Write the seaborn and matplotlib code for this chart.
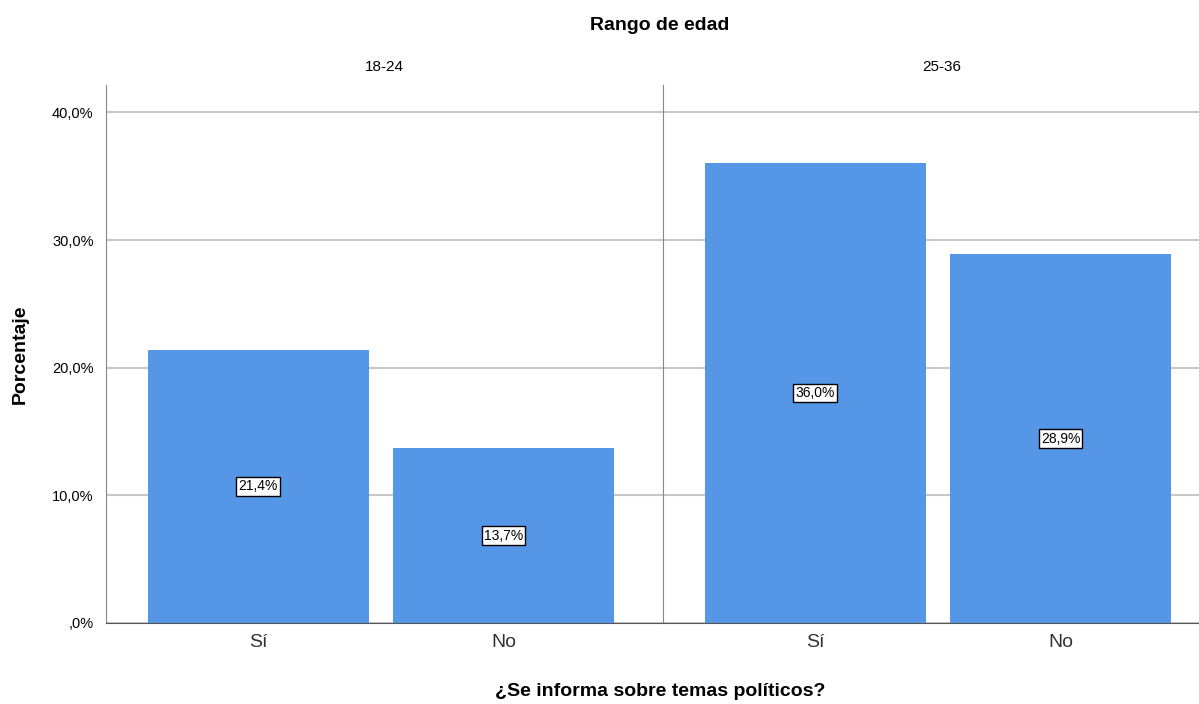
import pandas as pd
import seaborn as sns
import matplotlib.pyplot as plt

edades = ["18-24", "25-36"]
respuestas = ["Sí", "No"]
pct_18_24 = [21.4, 13.7]
pct_25_36 = [36.0, 28.9]

sns.set_style("white")
plt.rcParams['font.family'] = ['Liberation Sans', 'DejaVu Sans']
plt.rcParams['text.color'] = 'black'
plt.rcParams['xtick.color'] = 'black'
plt.rcParams['ytick.color'] = 'black'

df = pd.DataFrame({
    "edad": [edades[0]] * 2 + [edades[1]] * 2,
    "resp": respuestas * 2,
    "pct": pct_18_24 + pct_25_36,
})

fig = plt.figure(figsize=(11.99, 7.04), dpi=100)
W, H = 1199, 704
axes = [fig.add_axes([106 / W, 81 / H, 557 / W, 538 / H]),
        fig.add_axes([663 / W, 81 / H, 557 / W, 538 / H])]

def fmt(v):
    return ("%.1f%%" % v).replace(".", ",")

for i, (ax, edad) in enumerate(zip(axes, edades)):
    sub = df[df.edad == edad]
    sns.barplot(data=sub, x="resp", y="pct", order=respuestas, color="#5596E6",
                saturation=1, width=0.9, ax=ax, edgecolor="none")
    ax.set_xlim(-0.62, 1.65)
    ax.set_ylim(0, 42.15)
    ax.set_yticks([0, 10, 20, 30, 40])
    ax.yaxis.grid(True, color="#c8c8c8", linewidth=1.5)
    ax.set_axisbelow(True)
    ax.tick_params(length=0)
    ax.tick_params(axis="x", labelsize=14, colors="#333333", pad=8)
    for s in ["top", "right"]:
        ax.spines[s].set_visible(False)
    ax.spines["left"].set_color("#888888")
    ax.spines["bottom"].set_color("#555555")
    ax.set_xlabel("")
    ax.set_ylabel("")
    ax.set_title(edad, fontsize=11, pad=10, color="black")
    for j, v in enumerate(sub.pct):
        ax.text(j, v / 2, fmt(v), ha="center", va="center", fontsize=10,
                color="black",
                bbox=dict(boxstyle="square,pad=0.15", fc="white", ec="black", lw=1))
    if i == 0:
        ax.set_yticklabels([",0%" if t == 0 else fmt(t)
                            for t in [0, 10, 20, 30, 40]], fontsize=10.5)
        ax.tick_params(axis="y", pad=9)
    else:
        ax.set_yticklabels([])

fig.text(20 / W, 1 - 354 / H, "Porcentaje", rotation=90, ha="center", va="center",
         fontsize=14, fontweight="bold")
fig.text(660 / W, 1 - 691 / H, "¿Se informa sobre temas políticos?", ha="center",
         va="center", fontsize=14, fontweight="bold")
fig.text(660 / W, 1 - 25 / H, "Rango de edad", ha="center", va="center",
         fontsize=14, fontweight="bold")

fig.savefig("out.png", dpi=100)
